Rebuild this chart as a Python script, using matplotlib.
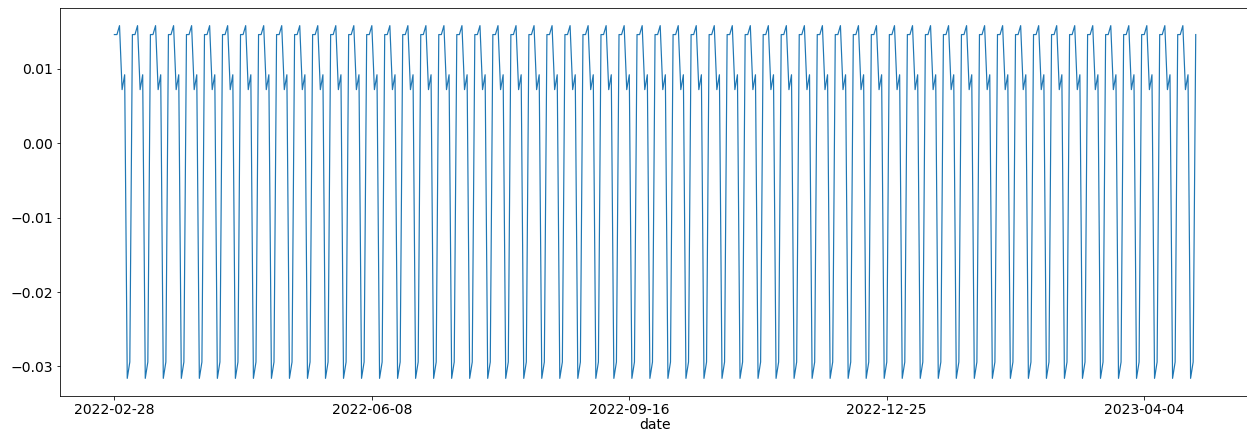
import matplotlib
matplotlib.use("Agg")
import matplotlib.pyplot as plt
import numpy as np
import pandas as pd

# weekly seasonal component, Monday .. Sunday
weekday_values = [0.0146, 0.0146, 0.0158, 0.0072, 0.0092, -0.0316, -0.0294]
start_date = "2022-02-28"
n_days = 421

dates = pd.date_range(start_date, periods=n_days, freq="D").strftime("%Y-%m-%d")
seasonal = pd.Series(np.resize(weekday_values, n_days), index=dates)

plt.rcParams['font.size'] = 14
fig = plt.figure(figsize=(1247 / 72, 430 / 72), dpi=72)
ax = fig.add_axes([60.3 / 1247, 1 - 396 / 430, 1189.5 / 1247, 388 / 430])

ax.plot(range(n_days), seasonal.values, color="C0", linewidth=1.2)
ticks = list(range(0, n_days, 100))
ax.set_xticks(ticks)
ax.set_xticklabels([dates[i] for i in ticks])
ax.set_yticks([-0.03, -0.02, -0.01, 0.0, 0.01])
ax.set_xlabel("date", labelpad=1)

fig.savefig("out.png", dpi=72)
